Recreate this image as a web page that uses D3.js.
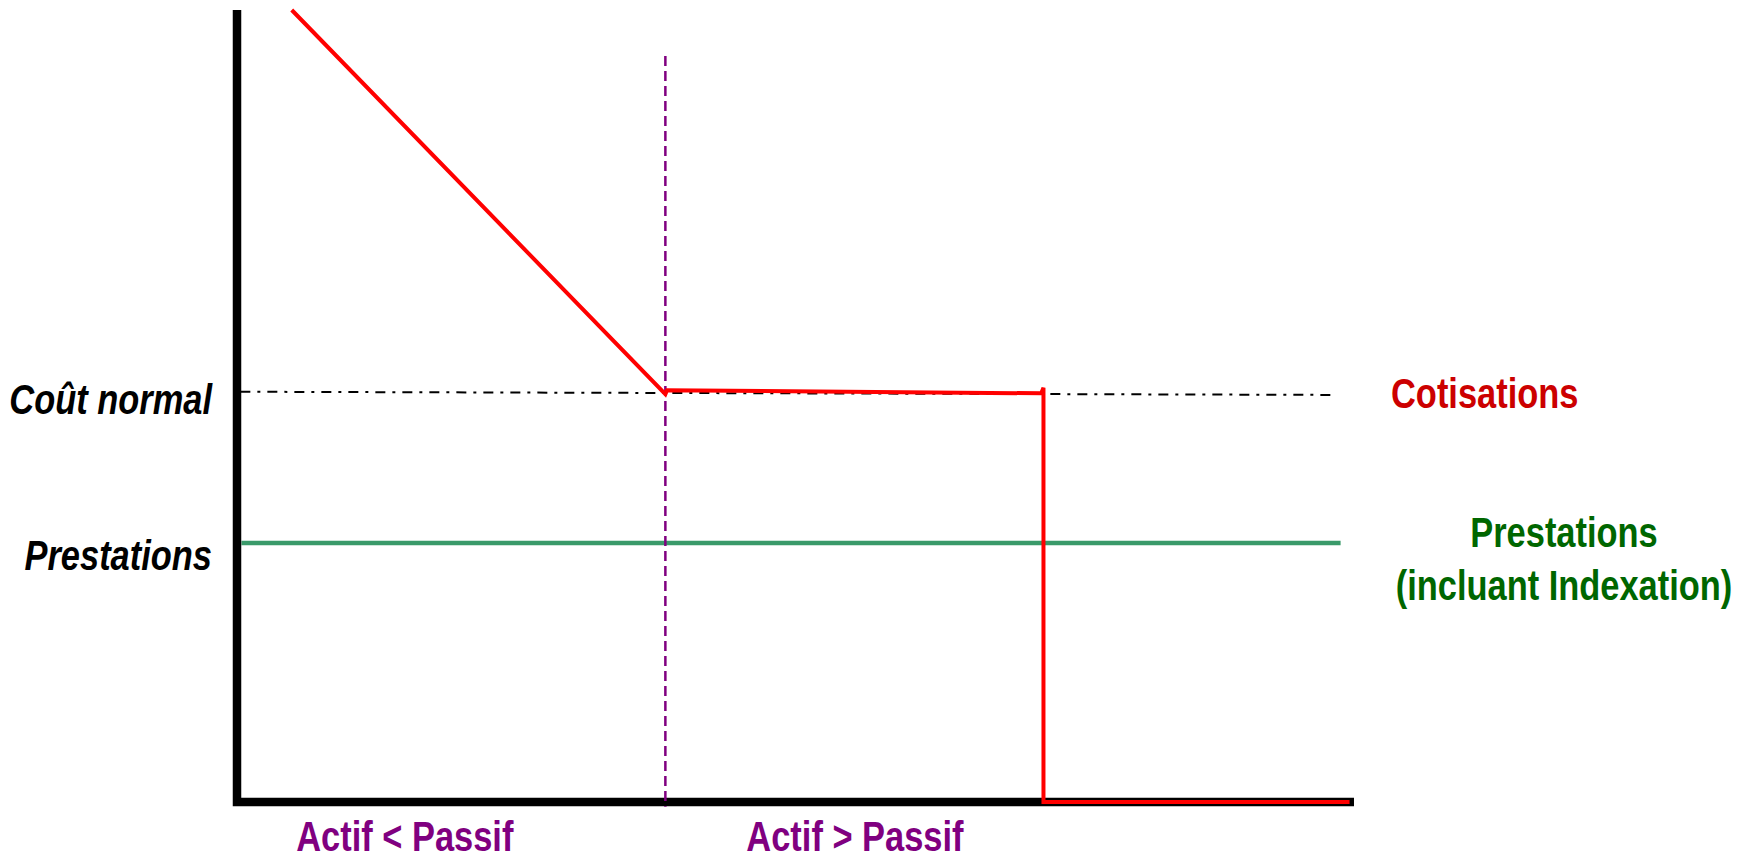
<!doctype html>
<html>
<head>
<meta charset="utf-8">
<script src="https://cdnjs.cloudflare.com/ajax/libs/d3/7.8.5/d3.min.js"></script>
<style>
body { margin: 0; background: #fff; }
text {
  font-family: "Liberation Sans", Arial, sans-serif;
  font-weight: bold;
  font-size: 42px;
}
.lbl-left { font-style: italic; fill: #000; text-anchor: end; }
.cot { fill: #cc0000; }
.prest { fill: #006600; text-anchor: middle; }
.zone { fill: #800080; }
</style>
</head>
<body>
<svg width="1752" height="862"></svg>
<script>
// values (x and y both on a 0-100 scale)
var cotisations = [[4.9, 100], [38.35, 51.5], [38.5, 52.0], [72.0, 51.6], [72.2, 52.3], [72.2, 0], [99.6, 0]];
var coutNormal = [[0.3, 51.8], [98.1, 51.4]];
var prestations = [[0.4, 32.7], [98.8, 32.7]];
var seuil = 38.35;           // actif = passif
var seuilY = [94.2, -0.6];
var leftLabels = [{text: "Coût normal", y: 49.0}, {text: "Prestations", y: 29.3}];
var zoneLabels = [{text: "Actif < Passif", x: 5.3}, {text: "Actif > Passif", x: 45.6}];
var rightCot = "Cotisations";
var rightPrest = ["Prestations", "(incluant Indexation)"];

// no narrow font installed: squeeze Liberation Sans to look like Arial Narrow
var narrow = 0.82;
function place(px, py) { return "translate(" + px + "," + py + ") scale(" + narrow + ",1)"; }

var svg = d3.select("svg");
var x = d3.scaleLinear().domain([0, 100]).range([237, 1354]);
var y = d3.scaleLinear().domain([0, 100]).range([802, 10]);
var line = d3.line().x(d => x(d[0])).y(d => y(d[1]));

// cout normal, dash-dot
svg.append("path")
  .attr("d", line(coutNormal))
  .attr("fill", "none")
  .attr("stroke", "#000")
  .attr("stroke-width", 2)
  .attr("stroke-dasharray", "10,7,3,7");

// prestations
svg.append("path")
  .attr("d", line(prestations))
  .attr("fill", "none")
  .attr("stroke", "#3a9a6a")
  .attr("stroke-width", 4.5);

// axes
svg.append("path")
  .attr("d", line([[0, 100], [0, 0], [100, 0]]))
  .attr("fill", "none")
  .attr("stroke", "#000")
  .attr("stroke-width", 8.5)
  .attr("stroke-linejoin", "miter");

// separation actif / passif
svg.append("line")
  .attr("x1", x(seuil)).attr("x2", x(seuil))
  .attr("y1", y(seuilY[0])).attr("y2", y(seuilY[1]))
  .attr("stroke", "#800080")
  .attr("stroke-width", 2.5)
  .attr("stroke-dasharray", "10,5");

// cotisations
svg.append("path")
  .attr("d", line(cotisations))
  .attr("fill", "none")
  .attr("stroke", "#ff0000")
  .attr("stroke-width", 4)
  .attr("stroke-linejoin", "miter");

svg.selectAll(".lbl-left")
  .data(leftLabels)
  .enter()
  .append("text")
  .attr("class", "lbl-left")
  .attr("transform", d => place(212, y(d.y)))
  .text(d => d.text);

svg.append("text")
  .attr("class", "cot")
  .attr("transform", place(1391, 408))
  .text(rightCot);

svg.selectAll(".prest")
  .data(rightPrest)
  .enter()
  .append("text")
  .attr("class", "prest")
  .attr("transform", (d, i) => place(1564, 547 + i * 53))
  .text(d => d);

svg.selectAll(".zone")
  .data(zoneLabels)
  .enter()
  .append("text")
  .attr("class", "zone")
  .attr("transform", d => place(x(d.x), 851))
  .text(d => d.text);
</script>
</body>
</html>
